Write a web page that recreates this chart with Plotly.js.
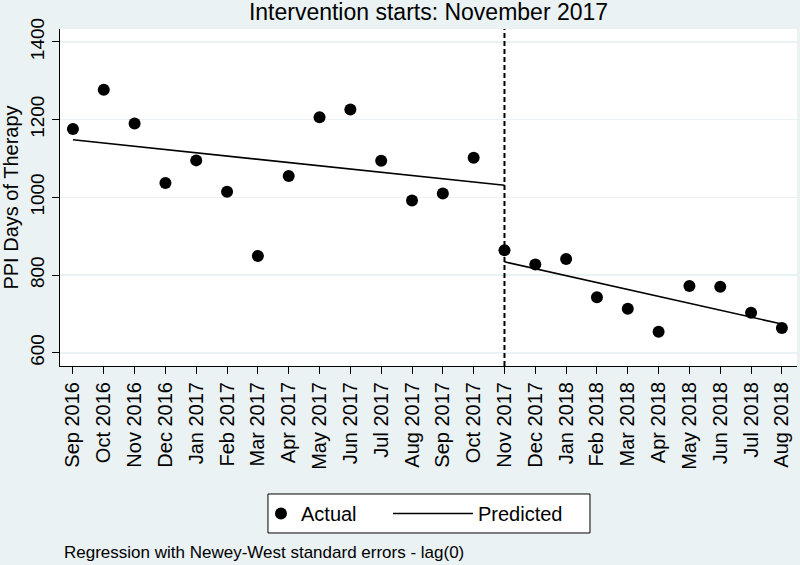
<!DOCTYPE html>
<html>
<head>
<meta charset="utf-8">
<script src="https://cdn.plot.ly/plotly-3.0.1.min.js"></script>
<style>html,body{margin:0;padding:0;background:#eaf2f3;}#chart{width:800px;height:565px;}</style>
</head>
<body>
<div id="chart"></div>
<script>
// ---- data ----
var months = ['Sep 2016','Oct 2016','Nov 2016','Dec 2016','Jan 2017','Feb 2017','Mar 2017','Apr 2017',
  'May 2017','Jun 2017','Jul 2017','Aug 2017','Sep 2017','Oct 2017','Nov 2017','Dec 2017','Jan 2018',
  'Feb 2018','Mar 2018','Apr 2018','May 2018','Jun 2018','Jul 2018','Aug 2018'];
var actual = [1176,1277,1190,1037,1095,1014,849,1055,1206,1226,1094,992,1010,1102,
  864,827,841,743,713,654,772,770,703,664];
var predPreMonths = ['Sep 2016','Nov 2017'];
var predPreValues = [1148,1031];
var predPostMonths = ['Nov 2017','Aug 2018'];
var predPostValues = [834,674];
var interventionMonth = 'Nov 2017';
var yTicks = [600,800,1000,1200,1400];

var FONT = 'Liberation Sans, Arial, Helvetica, sans-serif';
var BG = '#eaf2f3';

var traces = [
  {x: months, y: actual, type: 'scatter', mode: 'markers', name: 'Actual',
   marker: {color: '#000', size: 12}, legend: 'legend'},
  {x: predPreMonths, y: predPreValues, type: 'scatter', mode: 'lines', name: 'Predicted',
   line: {color: '#000', width: 1.6}, legendgroup: 'p', legend: 'legend2'},
  {x: predPostMonths, y: predPostValues, type: 'scatter', mode: 'lines', name: 'Predicted',
   line: {color: '#000', width: 1.6}, legendgroup: 'p', showlegend: false, legend: 'legend2'}
];

var ix = months.indexOf(interventionMonth);

var legendCommon = {orientation: 'h', xanchor: 'left', y: -0.4377, yanchor: 'middle',
  bgcolor: 'rgba(0,0,0,0)', borderwidth: 0, font: {size: 20, family: FONT, color: '#000'}};

var layout = {
  width: 800, height: 565,
  paper_bgcolor: BG, plot_bgcolor: '#ffffff',
  margin: {l: 60, r: 3, t: 29, b: 199},
  font: {family: FONT, color: '#000', size: 19},
  title: {text: 'Intervention starts: November 2017', font: {size: 23, family: FONT, color: '#000'},
    x: 0.5, xref: 'paper', y: 0.978, yref: 'container', yanchor: 'middle'},
  showlegend: true,
  legend: Object.assign({}, legendCommon, {x: 0.2727, itemwidth: 30}),
  legend2: Object.assign({}, legendCommon, {x: 0.445, itemwidth: 80}),
  xaxis: {type: 'category', categoryorder: 'array', categoryarray: months,
    range: [-0.42, 23.49], tickangle: -90, ticks: 'outside', ticklen: 7, tickcolor: '#000',
    showgrid: false, showline: true, linecolor: '#000', linewidth: 1, zeroline: false,
    tickfont: {size: 20, family: FONT}, fixedrange: true},
  yaxis: {range: [566, 1433], tickvals: yTicks, tickangle: -90, ticks: 'outside', ticklen: 7,
    tickcolor: '#000', showgrid: true, gridcolor: BG, gridwidth: 1.5, showline: true,
    linecolor: '#000', linewidth: 1, zeroline: false, tickfont: {size: 19, family: FONT},
    title: {text: 'PPI Days of Therapy', font: {size: 20, family: FONT}, standoff: 4}},
  shapes: [
    {type: 'line', xref: 'x', yref: 'paper', x0: ix, x1: ix, y0: 0, y1: 1,
     line: {color: '#000', width: 2, dash: '5px,3px'}},
    {type: 'rect', xref: 'paper', yref: 'paper', x0: 0.2822, x1: 0.7191, y0: -0.3798, y1: -0.4955,
     fillcolor: '#ffffff', line: {color: '#000', width: 1}, layer: 'below'}
  ],
  annotations: [
    {text: 'Regression with Newey-West standard errors - lag(0)', xref: 'paper', yref: 'paper',
     x: 0.003, y: -0.552, xanchor: 'left', yanchor: 'middle', showarrow: false,
     font: {size: 17, family: FONT, color: '#000'}}
  ]
};

Plotly.newPlot('chart', traces, layout, {displayModeBar: false, staticPlot: true});
</script>
</body>
</html>
